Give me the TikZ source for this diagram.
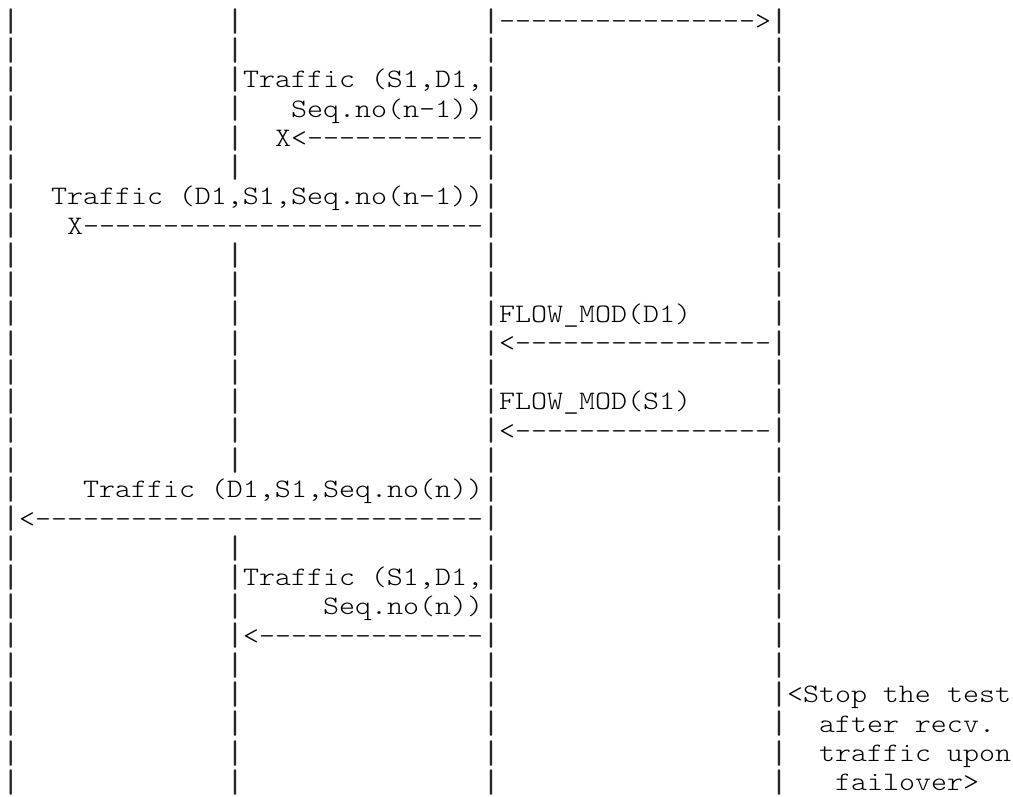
\documentclass[tikz,border=0pt]{standalone}
\usepackage{fontspec}
\setmonofont{Latin Modern Mono Light}[FakeStretch=1.143]
\newcommand{\dashrun}[1]{\foreach \i in {1,...,#1}{-}}
\newcommand{\lifebar}{\makebox[8pt]{\scalebox{1.5}[1.22]{|}}}
\tikzset{
  ascii/.style={font=\ttfamily\fontsize{20pt}{22pt}\selectfont, anchor=base west, inner sep=0pt, outer sep=0pt},
  lifeline/.style={ascii, anchor=center, text=black!85},
}
\begin{document}
\begin{tikzpicture}[x=12pt, y=-21.96pt]
  \useasboundingbox (-0.1875,0) rectangle (63.125,27.19);

  % lifelines: TP1, network device, controller
  \foreach \r in {1,...,27} {
    \node[lifeline] (tpa\r) at (0.5,\r-0.28) {\lifebar};
    \node[lifeline] (sw\r) at (30.5,\r-0.28) {\lifebar};
    \node[lifeline] (ctl\r) at (48.5,\r-0.28) {\lifebar};
  }
  % lifeline TP2 (hidden where traffic crosses it)
  \foreach \r in {1,...,6,9,10,...,16,19,20,...,27}
    \node[lifeline] (tpb\r) at (14.5,\r-0.28) {\lifebar};

  % switch -> controller
  \node[ascii] (msg1) at (31,1) {\dashrun{16}>};

  % lost traffic
  \node[ascii] (lbl3) at (15,3) {Traffic (S1,D1,};
  \node[ascii] (lbl4) at (18,4) {Seq.no(n-1))};
  \node[ascii] (msg5) at (17,5) {X<\dashrun{11}};
  \node[ascii] (lbl7) at (3,7) {Traffic (D1,S1,Seq.no(n-1))};
  \node[ascii] (msg8) at (4,8) {X\dashrun{25}};

  % controller re-provisions
  \node[ascii] (lbl11) at (31,11) {FLOW\_MOD(D1)};
  \node[ascii] (msg12) at (31,12) {<\dashrun{16}};
  \node[ascii] (lbl14) at (31,14) {FLOW\_MOD(S1)};
  \node[ascii] (msg15) at (31,15) {<\dashrun{16}};

  % traffic after failover
  \node[ascii] (lbl17) at (5,17) {Traffic (D1,S1,Seq.no(n))};
  \node[ascii] (msg18) at (1,18) {<\dashrun{28}};
  \node[ascii] (lbl20) at (15,20) {Traffic (S1,D1,};
  \node[ascii] (lbl21) at (20,21) {Seq.no(n))};
  \node[ascii] (msg22) at (15,22) {<\dashrun{14}};

  % end note
  \node[ascii] (note1) at (49,24) {<Stop the test};
  \node[ascii] (note2) at (51,25) {after recv.};
  \node[ascii] (note3) at (51,26) {traffic upon};
  \node[ascii] (note4) at (52,27) {failover>};
\end{tikzpicture}
\end{document}
